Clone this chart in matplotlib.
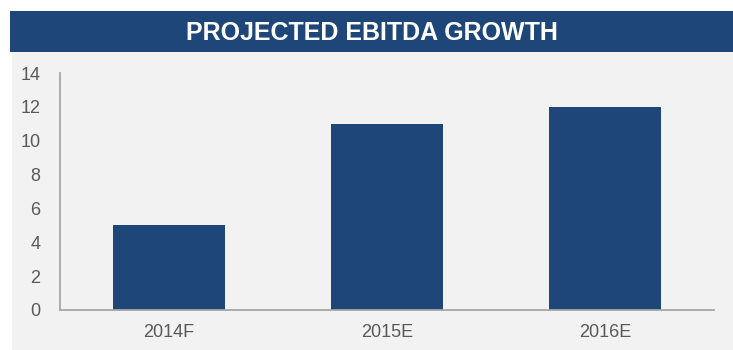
import matplotlib
matplotlib.use("Agg")
import matplotlib.pyplot as plt
from matplotlib.patches import Rectangle

categories = ["2014F", "2015E", "2016E"]
ebitda = [5, 11, 12]
yticks = [0, 2, 4, 6, 8, 10, 12, 14]
title = "PROJECTED EBITDA GROWTH"

navy = "#1f4678"
panel = "#f2f2f2"
label_grey = "#595959"
axis_grey = "#a6a6a6"

plt.rcParams["font.family"] = ["Liberation Sans", "DejaVu Sans"]

W, H = 733, 350
fig = plt.figure(figsize=(W / 100, H / 100), dpi=100)
fig.patch.set_facecolor("white")

# light panel behind the chart and the title banner above it
fig.add_artist(Rectangle((12 / W, 0), 1 - 12 / W, (H - 52) / H,
                         transform=fig.transFigure, facecolor=panel,
                         edgecolor="none", zorder=0))
fig.add_artist(Rectangle((10 / W, (H - 52) / H), 1 - 10 / W, 41 / H,
                         transform=fig.transFigure, facecolor=navy,
                         edgecolor="none", zorder=0))
fig.text((10 + W) / 2 / W, (H - 33) / H, title, color="white",
         fontsize=18, fontweight="bold", ha="center", va="center")

ax = fig.add_axes([60 / W, (H - 310) / H, 654 / W, 237 / H])
ax.set_facecolor("none")
ax.bar(range(len(categories)), ebitda, width=0.515, color=navy, zorder=2)
ax.set_xlim(-0.5, 2.5)
ax.set_ylim(0, 14)
ax.set_xticks(range(len(categories)))
ax.set_xticklabels(categories)
ax.set_yticks(yticks)
ax.tick_params(axis="both", length=0, labelsize=13, colors=label_grey)
ax.tick_params(axis="y", pad=14)
ax.tick_params(axis="x", pad=10)
for side in ("top", "right"):
    ax.spines[side].set_visible(False)
for side in ("left", "bottom"):
    ax.spines[side].set_color(axis_grey)
    ax.spines[side].set_linewidth(1.3)

fig.savefig("out.png", dpi=100, facecolor=fig.get_facecolor())
